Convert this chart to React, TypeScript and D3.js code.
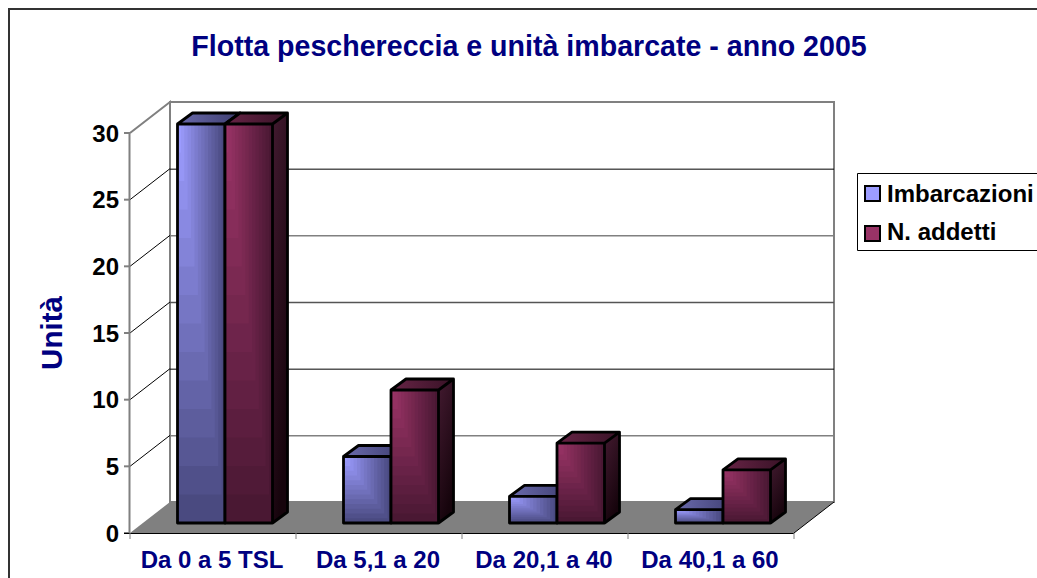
import React from 'react';
import * as d3 from 'd3';

const categories = ['Da 0 a 5 TSL', 'Da 5,1 a 20', 'Da 20,1 a 40', 'Da 40,1 a 60'];
const imbarcazioni = [30, 5, 2, 1];
const addetti = [30, 10, 6, 4];
const yTicks = [0, 5, 10, 15, 20, 25, 30];
const seriesNames = ['Imbarcazioni', 'N. addetti'];

const width = 1037;
const height = 578;
const navy = '#000080';
const font = 'Liberation Sans, Arial, sans-serif';

// 3D offsets: back wall sits up and right of the front axis
const depthX = 40;
const depthY = 31;
const barDepthX = 15;
const barDepthY = 11;

const x = d3.scaleBand<string>().domain(categories).range([130, 794]);
const y = d3.scaleLinear().domain([0, 30]).range([533, 133]);
const barH = d3.scaleLinear().domain([0, 30]).range([0, 399]);
const barBase = 523;
const barW = 47.5;
const barInset = 47.5;

const palette = [
  { light: '#9c9cff', dark: '#4a4a80', topA: '#6a6aac', topB: '#3e3e70', sideA: '#50507f', sideB: '#22223f' },
  { light: '#993366', dark: '#4a1833', topA: '#682446', topB: '#381226', sideA: '#431a30', sideB: '#16040c' },
];

// the gridlines do not all come out the same shade in the original
const gridColor: Record<number, string> = { 5: '#808080', 10: '#000', 15: '#555', 20: '#808080', 25: '#000' };

const STEPS = 14;

// stepped corner gradient, same banding as the reference
function Face({ x0, y0, w, h, light, dark }: { x0: number; y0: number; w: number; h: number; light: string; dark: string }) {
  const col = d3.interpolateRgb(dark, light);
  return (
    <g>
      {d3.range(STEPS).map((i) => {
        const k = 1 - i / STEPS;
        return <rect key={i} x={x0} y={y0} width={w * k} height={h * k} fill={col(i / (STEPS - 1))} />;
      })}
    </g>
  );
}

function Bar({ x0, value, s }: { x0: number; value: number; s: number }) {
  const p = palette[s];
  const h = barH(value);
  const top = barBase - h;
  const id = `${s}-${Math.round(x0)}`;
  const dx = barDepthX;
  const dy = barDepthY;
  return (
    <g>
      <defs>
        <linearGradient id={`top${id}`} x1="0" x2="1" y1="0" y2="0">
          <stop offset="0" stopColor={p.topA} />
          <stop offset="1" stopColor={p.topB} />
        </linearGradient>
        <linearGradient id={`side${id}`} x1="0" x2="0.4" y1="0" y2="1">
          <stop offset="0" stopColor={p.sideA} />
          <stop offset="1" stopColor={p.sideB} />
        </linearGradient>
      </defs>
      <path
        d={`M${x0},${top}l${dx},${-dy}h${barW}l${-dx},${dy}z`}
        fill={`url(#top${id})`}
      />
      <path
        d={`M${x0 + barW},${top}l${dx},${-dy}v${h}l${-dx},${dy}z`}
        fill={`url(#side${id})`}
      />
      <Face x0={x0} y0={top} w={barW} h={h} light={p.light} dark={p.dark} />
      <path
        d={`M${x0},${top}h${barW}v${h}h${-barW}z M${x0},${top}l${dx},${-dy}h${barW}v${h}l${-dx},${dy} M${x0 + barW},${top}l${dx},${-dy}`}
        fill="none"
        stroke="#000"
        strokeWidth={2.8}
        strokeLinejoin="round"
      />
    </g>
  );
}

export default function App() {
  const left = x.range()[0];
  const right = x.range()[1];
  const y0 = y(0);
  const yTop = y(30);
  return (
    <svg
      width={width}
      height={height}
      style={{ position: 'absolute', left: 0, top: 0, display: 'block' }}
      fontFamily={font}
    >
      <rect x={0} y={0} width={width} height={height} fill="#fff" />
      <path d={`M9,${height}V9H${width}`} fill="none" stroke="#333" strokeWidth={2} />

      <text x={529} y={56} textAnchor="middle" fontSize={28.6} fontWeight="bold" fill={navy}>
        Flotta peschereccia e unità imbarcate - anno 2005
      </text>

      {/* floor */}
      <path
        d={`M${left},${y0}L${left + depthX},${y0 - depthY}H${right + depthX}L${right},${y0}z`}
        fill="#808080"
      />
      {/* walls */}
      <path
        d={`M${left},${yTop}L${left + depthX},${yTop - depthY}V${y0 - depthY}`}
        fill="none"
        stroke="#808080"
        strokeWidth={2}
      />
      <rect
        x={left + depthX}
        y={yTop - depthY}
        width={right - left}
        height={y0 - yTop}
        fill="none"
        stroke="#808080"
        strokeWidth={2}
      />

      {/* gridlines, back wall and left wall */}
      {yTicks.filter((t) => t > 0 && t < 30).map((t) => (
        <g key={t}>
          <path
            d={`M${left},${y(t)}L${left + depthX},${y(t) - depthY}`}
            fill="none"
            stroke="#000"
            strokeWidth={1}
          />
          <line
            x1={left + depthX}
            x2={right + depthX}
            y1={y(t) - depthY + 0.5}
            y2={y(t) - depthY + 0.5}
            stroke={gridColor[t]}
            strokeWidth={gridColor[t] === '#000' ? 1 : 1.5}
          />
        </g>
      ))}
      <path d={`M${right},${y0}L${right + depthX},${y0 - depthY}`} fill="none" stroke="#000" />

      {/* y axis */}
      <line x1={left - 0.5} x2={left - 0.5} y1={yTop} y2={y0} stroke="#808080" strokeWidth={2} />
      {yTicks.map((t) => (
        <g key={t}>
          <line x1={left - 6} x2={left} y1={y(t)} y2={y(t)} stroke="#808080" strokeWidth={2} />
          <text x={left - 11} y={y(t) + 8.5} textAnchor="end" fontSize={24} fontWeight="bold" fill="#000">
            {t}
          </text>
        </g>
      ))}

      {/* x axis */}
      <line x1={left - 6} x2={right} y1={y0 + 0.5} y2={y0 + 0.5} stroke="#000" strokeWidth={1} />
      {[...categories.map((c) => x(c)!), right].map((tx) => (
        <line key={tx} x1={tx} x2={tx} y1={y0} y2={y0 + 6} stroke="#808080" strokeWidth={1} />
      ))}
      {categories.map((c) => (
        <text
          key={c}
          x={x(c)! + x.bandwidth() / 2 - 1}
          y={568}
          textAnchor="middle"
          fontSize={24}
          fontWeight="bold"
          fill={navy}
        >
          {c}
        </text>
      ))}

      {/* bars */}
      {categories.map((c, i) => (
        <g key={c}>
          <Bar x0={x(c)! + barInset} value={imbarcazioni[i]} s={0} />
          <Bar x0={x(c)! + barInset + barW} value={addetti[i]} s={1} />
        </g>
      ))}

      <text
        transform="translate(62,333) rotate(-90)"
        textAnchor="middle"
        fontSize={29.5}
        fontWeight="bold"
        fill={navy}
      >
        Unità
      </text>

      {/* legend */}
      <path d={`M${width},173.5H857.5V250.5H${width}`} fill="#fff" stroke="#000" />
      {seriesNames.map((name, i) => (
        <g key={name}>
          <rect x={865} y={186 + i * 40} width={15} height={15} fill={palette[i].light} stroke="#000" strokeWidth={2} />
          <text x={887} y={202 + i * 38} fontSize={24} fontWeight="bold" fill="#000">
            {name}
          </text>
        </g>
      ))}
    </svg>
  );
}
